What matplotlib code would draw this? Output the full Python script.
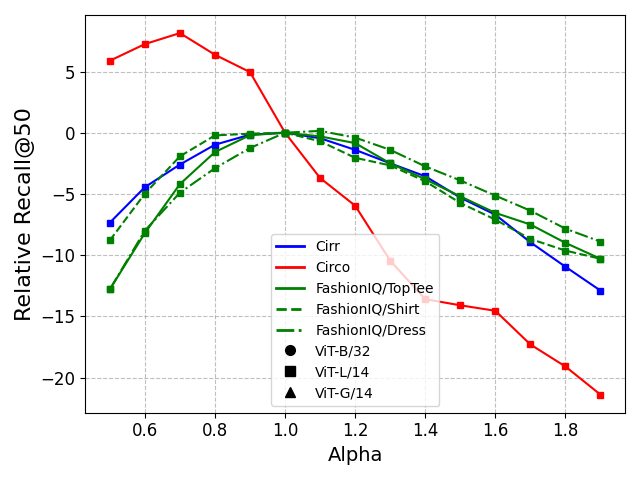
import numpy as np
import matplotlib
matplotlib.use("Agg")
import matplotlib.pyplot as plt
from matplotlib.lines import Line2D

# Alpha values
alpha = [0.5, 0.6, 0.7, 0.8, 0.9, 1.0, 1.1, 1.2, 1.3, 1.4, 1.5, 1.6, 1.7, 1.8, 1.9]

# Relative Recall@50 per dataset (ViT-L/14)
cirr = [-7.35, -4.45, -2.6, -0.98, -0.16, 0.0, -0.45, -1.4, -2.5, -3.56, -5.3, -6.7, -8.95, -10.95, -12.9]
circo = [5.88, 7.24, 8.14, 6.37, 4.95, 0.0, -3.7, -5.96, -10.45, -13.6, -14.1, -14.55, -17.3, -19.1, -21.4]
toptee = [-12.8, -8.2, -4.2, -1.58, -0.2, 0.0, -0.3, -0.85, -2.5, -3.8, -5.2, -6.55, -7.5, -9.0, -10.3]
shirt = [-8.8, -4.98, -1.93, -0.22, -0.08, 0.0, -0.7, -2.05, -2.67, -3.97, -5.74, -7.1, -8.68, -9.63, -10.3]
dress = [-12.8, -8.0, -4.9, -2.9, -1.25, 0.0, 0.15, -0.4, -1.4, -2.75, -3.9, -5.14, -6.37, -7.84, -8.9]

series = [
    ("Cirr", cirr, "blue", "-"),
    ("Circo", circo, "red", "-"),
    ("FashionIQ/TopTee", toptee, "green", "-"),
    ("FashionIQ/Shirt", shirt, "green", "--"),
    ("FashionIQ/Dress", dress, "green", "-."),
]
models = [("ViT-B/32", "o"), ("ViT-L/14", "s"), ("ViT-G/14", "^")]

fig, ax = plt.subplots(figsize=(6.4, 4.8), dpi=100)

for name, vals, color, ls in series:
    ax.plot(alpha, vals, color=color, ls=ls, marker="s", ms=5)

handles = [Line2D([], [], color=c, ls=ls, lw=2) for _, _, c, ls in series]
labels = [n for n, _, _, _ in series]
for m, mk in models:
    handles.append(Line2D([], [], color="black", ls="", marker=mk, ms=7))
    labels.append(m)

ax.grid(True, ls="--", color="gray", alpha=0.5)
ax.set_xlabel("Alpha", fontsize=14)
ax.set_ylabel("Relative Recall@50", fontsize=16)
ax.tick_params(labelsize=12)
ax.legend(handles, labels, loc="lower center", fontsize=10)
fig.tight_layout()
fig.savefig("out.png")
